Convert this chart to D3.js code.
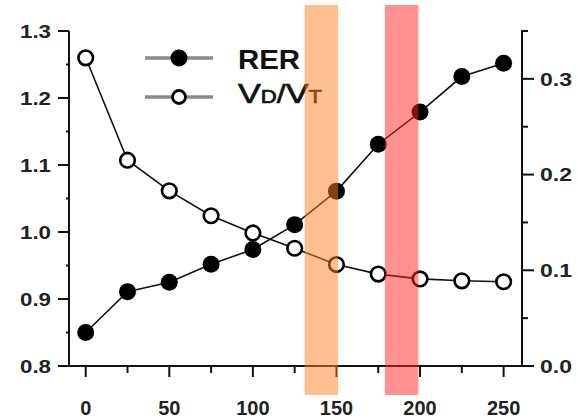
<!DOCTYPE html>
<html><head><meta charset="utf-8">
<script src="https://cdn.jsdelivr.net/npm/d3@7"></script>
<style>body{margin:0;background:#fff}svg{display:block}text{font-family:"Liberation Sans",Arial,sans-serif}</style>
</head><body><svg id="c" width="577" height="420"></svg>
<script>
const workload = [0, 25, 50, 75, 100, 125, 150, 175, 200, 225, 250];
const rer = [0.850, 0.911, 0.925, 0.952, 0.974, 1.011, 1.061, 1.131, 1.179, 1.232, 1.252];
const vdvt = [0.322, 0.215, 0.183, 0.157, 0.139, 0.123, 0.106, 0.096, 0.091, 0.089, 0.088];
const bands = [{from: 131, to: 151, color: "rgb(255,130,35)"}, {from: 179, to: 199, color: "rgb(255,35,35)"}];
const xTicks = [0, 50, 100, 150, 200, 250];
const leftTicks = [0.8, 0.9, 1.0, 1.1, 1.2, 1.3];
const rightTicks = [0.0, 0.1, 0.2, 0.3];

const svg = d3.select("#c");
const x = d3.scaleLinear().domain([-10, 261]).range([69, 522]);
const yL = d3.scaleLinear().domain([0.8, 1.3]).range([366, 31]);
const yR = d3.scaleLinear().domain([0, 0.35]).range([366, 31]);

// axes lines
const axisG = svg.append("g").attr("stroke", "#111").attr("stroke-width", 2).attr("fill", "none");
axisG.append("line").attr("x1", x.range()[0]).attr("x2", x.range()[0]).attr("y1", yL.range()[0] + 1).attr("y2", yL.range()[1]);
axisG.append("line").attr("x1", x.range()[1]).attr("x2", x.range()[1]).attr("y1", yL.range()[0] + 1).attr("y2", yR.range()[1] - 1);
axisG.append("line").attr("x1", x.range()[0] - 1).attr("x2", x.range()[1] + 1).attr("y1", yL.range()[0]).attr("y2", yL.range()[0]);

// left ticks
d3.range(0.8, 1.3001, 0.05).forEach(v => {
  const major = Math.abs(v * 10 - Math.round(v * 10)) < 1e-6;
  axisG.append("line").attr("x1", x.range()[0]).attr("x2", x.range()[0] - (major ? 11 : 3))
    .attr("y1", yL(v)).attr("y2", yL(v));
});
// right ticks
d3.range(0, 0.3501, 0.05).forEach(v => {
  const major = Math.abs(v * 10 - Math.round(v * 10)) < 1e-6;
  axisG.append("line").attr("x1", x.range()[1]).attr("x2", x.range()[1] + (major ? 12 : 6))
    .attr("y1", yR(v)).attr("y2", yR(v));
});
// x ticks
d3.range(0, 251, 25).forEach(v => {
  const major = v % 50 === 0;
  axisG.append("line").attr("x1", x(v)).attr("x2", x(v)).attr("y1", yL.range()[0])
    .attr("y2", yL.range()[0] + (major ? 11 : 7));
});

// tick labels
svg.append("g").selectAll("text").data(leftTicks).join("text")
  .attr("x", 51).attr("y", d => yL(d)).attr("dy", "0.36em").attr("text-anchor", "end")
  .attr("font-size", 19).attr("font-weight", "bold").attr("fill", "#222")
  .attr("textLength", 31).attr("lengthAdjust", "spacingAndGlyphs")
  .text(d => d.toFixed(1));
svg.append("g").selectAll("text").data(rightTicks).join("text")
  .attr("x", 540).attr("y", d => yR(d)).attr("dy", "0.36em").attr("text-anchor", "start")
  .attr("font-size", 19).attr("font-weight", "bold").attr("fill", "#222")
  .attr("textLength", 32).attr("lengthAdjust", "spacingAndGlyphs")
  .text(d => d.toFixed(1));
svg.append("g").selectAll("text").data(xTicks).join("text")
  .attr("x", d => x(d)).attr("y", 415).attr("text-anchor", "middle")
  .attr("font-size", 20).attr("font-weight", "bold").attr("fill", "#222")
  .text(d => d);

// lines
const lineL = d3.line().x((d, i) => x(workload[i])).y(d => yL(d));
const lineR = d3.line().x((d, i) => x(workload[i])).y(d => yR(d));
svg.append("path").attr("d", lineL(rer)).attr("fill", "none").attr("stroke", "#111").attr("stroke-width", 1.6);
svg.append("path").attr("d", lineR(vdvt)).attr("fill", "none").attr("stroke", "#111").attr("stroke-width", 1.6);

svg.append("g").selectAll("circle").data(rer).join("circle")
  .attr("cx", (d, i) => x(workload[i])).attr("cy", d => yL(d)).attr("r", 8.5).attr("fill", "#000");
svg.append("g").selectAll("circle").data(vdvt).join("circle")
  .attr("cx", (d, i) => x(workload[i])).attr("cy", d => yR(d)).attr("r", 7.3)
  .attr("fill", "#fff").attr("stroke", "#000").attr("stroke-width", 2.6);

// legend
const leg = svg.append("g");
[{y: 58, filled: true}, {y: 97, filled: false}].forEach(e => {
  leg.append("line").attr("x1", 145).attr("x2", 213).attr("y1", e.y).attr("y2", e.y)
    .attr("stroke", "#8a8a8a").attr("stroke-width", 3.5);
  const c = leg.append("circle").attr("cx", 179).attr("cy", e.y);
  if (e.filled) c.attr("r", 8.5).attr("fill", "#000");
  else c.attr("r", 6.5).attr("fill", "#fff").attr("stroke", "#000").attr("stroke-width", 2.8);
});
leg.append("text").attr("x", 238).attr("y", 69).attr("font-size", 27).attr("font-weight", "bold")
  .attr("fill", "#111").attr("textLength", 62).attr("lengthAdjust", "spacingAndGlyphs").text("RER");
const t2 = leg.append("text").attr("x", 238).attr("y", 103).attr("fill", "#111")
  .attr("stroke", "#111").attr("stroke-width", 0.7)
  .attr("textLength", 84).attr("lengthAdjust", "spacingAndGlyphs");
t2.append("tspan").attr("font-size", 28).text("V");
t2.append("tspan").attr("font-size", 18).text("D");
t2.append("tspan").attr("font-size", 26).text("/");
t2.append("tspan").attr("font-size", 28).text("V");
t2.append("tspan").attr("font-size", 18).text("T");

// bands (semi-transparent, on top)
svg.append("g").selectAll("rect").data(bands).join("rect")
  .attr("x", d => x(d.from)).attr("width", d => x(d.to) - x(d.from))
  .attr("y", 5).attr("height", 390)
  .attr("fill", d => d.color).attr("fill-opacity", 0.5);
</script></body></html>
